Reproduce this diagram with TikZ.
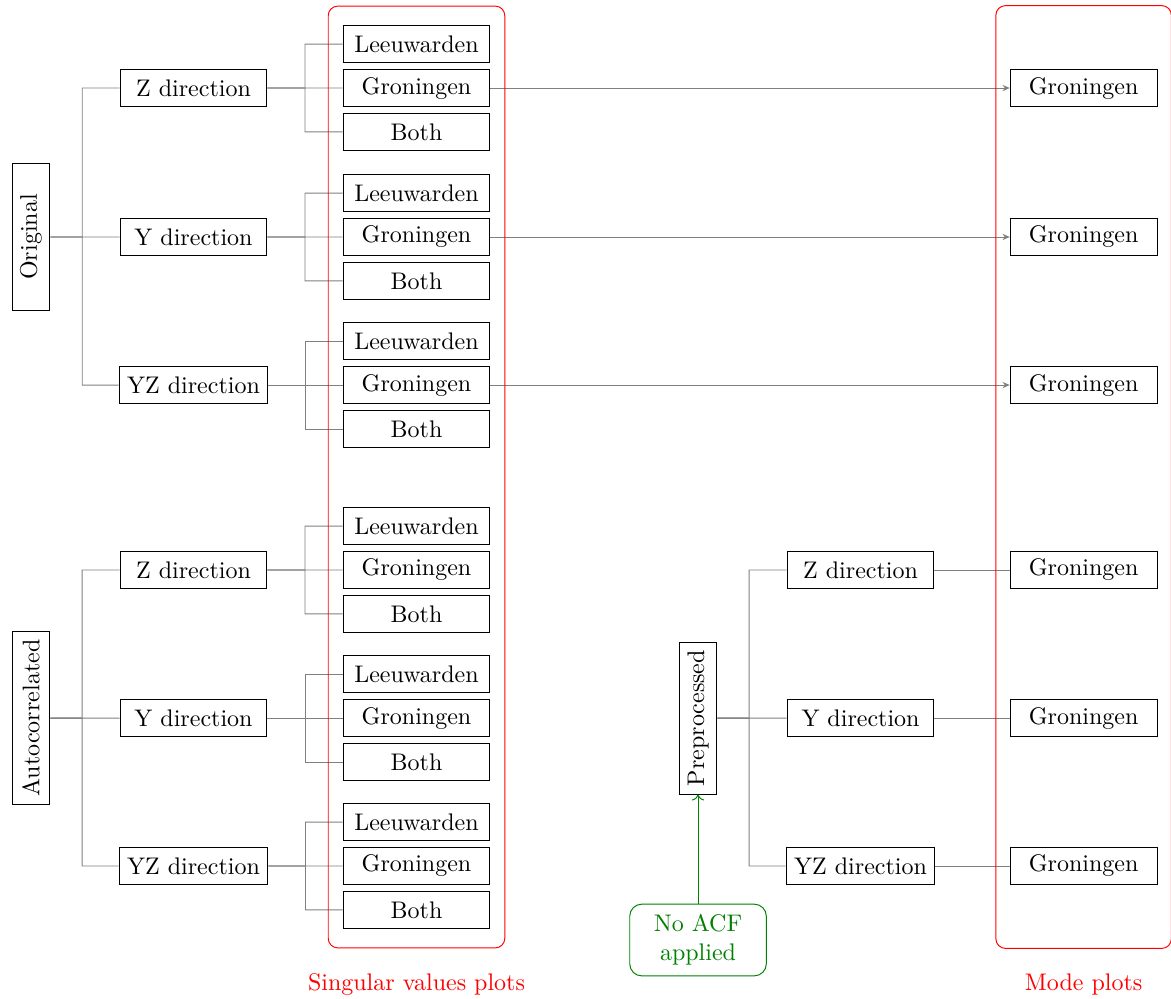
\documentclass[tikz,border=0pt]{standalone}
\usepackage{tikz}
\usetikzlibrary{arrows.meta, positioning, fit, calc}
\tikzset{
  box/.style={
    rectangle, draw=black,
    minimum width=2.15cm, minimum height=0.55cm,
    text centered,
  },
  branch/.style={draw=gray},
  plotframe/.style={draw=red, rounded corners=4pt},
}

\begin{document}
\begin{tikzpicture}[
  feed/.style={-{Stealth[length=3pt, width=2.6pt]}, gray},
  tag/.style={text=red},
  note/.style={rectangle, draw=green!50!black, text=green!50!black,
               rounded corners=5pt, align=center,
               minimum width=2cm, minimum height=1.05cm},
  node distance=2.2pt,
]
  \useasboundingbox (0,0) rectangle (17.15,-14.617);

  % Column positions
  \coordinate (xsv)   at (6.100,0);
  \coordinate (xmode) at (15.870,0);

  % Roots
  \node[box, rotate=90] (orig) at (0.454,-3.471)   {Original};
  \node[box, rotate=90] (auto) at (0.454,-10.516)  {Autocorrelated};
  \node[box, rotate=90] (pre)  at (10.223,-10.516) {Preprocessed};

  % Directions
  \node[box] (oz)  at (2.834,-1.289)  {Z direction};
  \node[box] (oy)  at (2.834,-3.471)  {Y direction};
  \node[box] (oyz) at (2.834,-5.639)  {YZ direction};
  \node[box] (az)  at (2.834,-8.348)  {Z direction};
  \node[box] (ay)  at (2.834,-10.516) {Y direction};
  \node[box] (ayz) at (2.834,-12.683) {YZ direction};
  \node[box] (pz)  at (12.603,-8.348)  {Z direction};
  \node[box] (py)  at (12.603,-10.516) {Y direction};
  \node[box] (pyz) at (12.603,-12.683) {YZ direction};

  % Root -> direction
  \foreach \r/\m/\d in {orig/oy/oz, orig/oy/oy, orig/oy/oyz,
                        auto/ay/az, auto/ay/ay, auto/ay/ayz,
                        pre/py/pz, pre/py/py, pre/py/pyz}
    \draw[branch] (\r.south) -- ($(\r.south)!0.46!(\m.west)$) |- (\d.west);

  % Singular value plots
  \foreach \d in {oz, oy, oyz, az, ay, ayz} {
    \node[box] (\d-g) at (\d -| xsv) {Groningen};
    \node[box, above=of \d-g] (\d-l) {Leeuwarden};
    \node[box, below=of \d-g] (\d-b) {Both};
    \draw[branch] (\d.east) -- ($(\d.east)!0.5!(\d-g.west)$) |- (\d-l.west);
    \draw[branch] (\d.east) -- ($(\d.east)!0.5!(\d-g.west)$) |- (\d-g.west);
    \draw[branch] (\d.east) -- ($(\d.east)!0.5!(\d-g.west)$) |- (\d-b.west);
  }

  % Mode plots
  \foreach \d in {oz, oy, oyz} {
    \node[box] (\d-m) at (\d -| xmode) {Groningen};
    \draw[feed] (\d-g.east) -- (\d-m.west);
  }
  \foreach \d in {pz, py, pyz} {
    \node[box] (\d-m) at (\d -| xmode) {Groningen};
    \draw[branch] (\d.east) -- (\d-m.west);
  }

  % No ACF
  \node[note] (noacf) at (10.223,-13.767) {No ACF\\applied};
  \draw[->, green!50!black] (noacf) -- (pre.west);

  % Frames
  \node[plotframe, fit=(oz-l)(ayz-b), inner xsep=6pt, inner ysep=7.8pt] (svframe) {};
  \node[plotframe, fit=(svframe.north -| oz-m)(svframe.south -| pyz-m),
        inner xsep=0pt, inner ysep=0pt, minimum width=2.57cm] (mframe) {};
  \node[tag, below=6.8pt of svframe] (svlabel) {Singular values plots};
  \node[tag, below=6.8pt of mframe]  (mlabel)  {Mode plots};

\end{tikzpicture}
\end{document}
